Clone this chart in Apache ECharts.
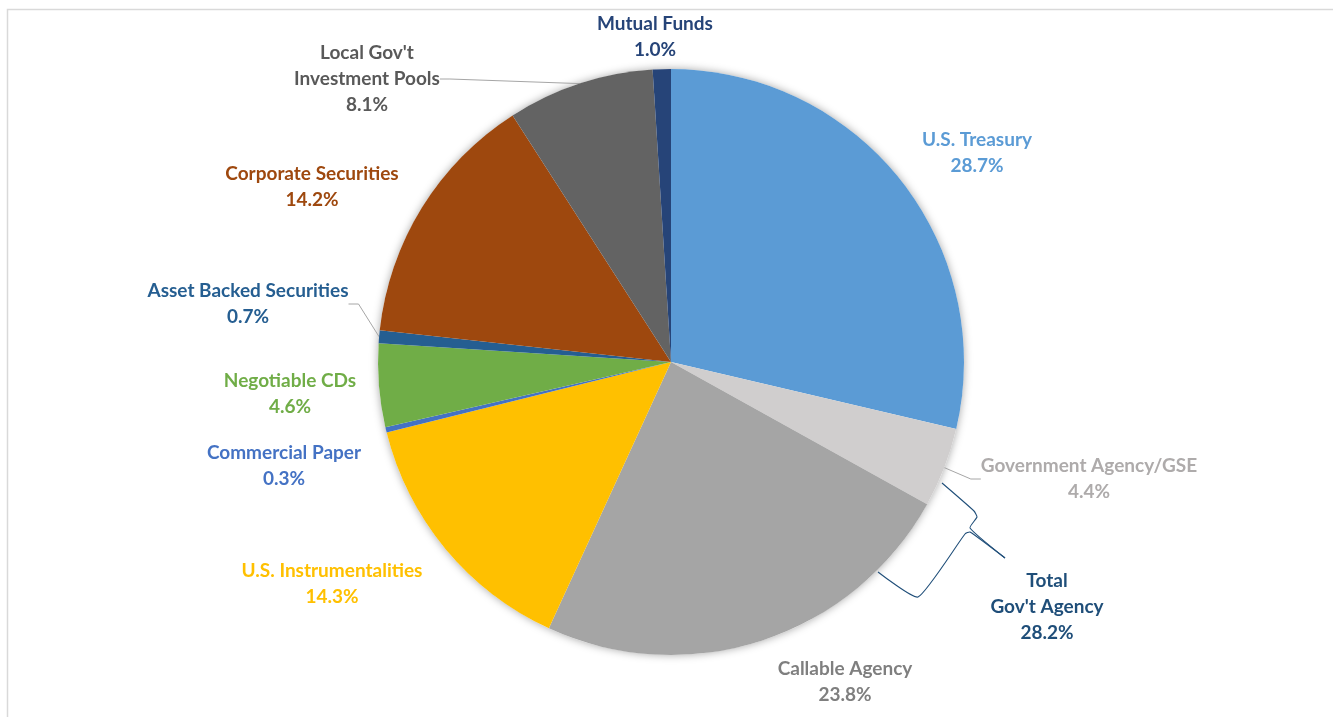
<!DOCTYPE html>
<html><head><meta charset="utf-8">
<script src="https://cdn.jsdelivr.net/npm/echarts@6/dist/echarts.min.js"></script>
<style>html,body{margin:0;padding:0;background:#fff}#c{width:1333px;height:717px}</style>
</head><body><div id="c"></div>
<script>
const categories = ["U.S. Treasury","Government Agency/GSE","Callable Agency","U.S. Instrumentalities","Commercial Paper","Negotiable CDs","Asset Backed Securities","Corporate Securities","Local Gov't\nInvestment Pools","Mutual Funds"];
const values = [28.7,4.4,23.8,14.3,0.3,4.6,0.7,14.2,8.1,1.0];
const sliceColors = ["#5B9BD5","#D0CECE","#A5A5A5","#FFC000","#4472C4","#70AD47","#255E91","#9E480E","#636363","#264478"];
const labelColors = ["#5B9BD5","#AEABAB","#7F7F7F","#FFC000","#4472C4","#70AD47","#255E91","#9E480E","#595959","#264478"];
const totalLabel = "Total\nGov't Agency";
const totalValue = 28.2;

// label anchor layout (centre of text block)
const labelAt = [[977,153],[1089,479],[845,682],[332,584],[284,466],[290,394],[248,304],[312,187],[367,79],[655,37]];
const withLine = [false,true,false,false,false,false,true,false,true,false];

const chart = echarts.init(document.getElementById('c'), null, {renderer:'canvas'});
const FONT = 'Lato, "Open Sans", sans-serif';
const data = categories.map((n,i)=>({
  name:n, value:values[i],
  itemStyle:{color:sliceColors[i]},
  label:{color:labelColors[i]},
  labelLine:{show:withLine[i], lineStyle:{color:'#A6A6A6', width:1}}
}));
chart.setOption({
  backgroundColor:'#fff',
  animation:false,
  graphic:[
    {type:'rect', left:5, top:7, shape:{width:1340, height:720}, style:{fill:'none', stroke:'#D9D9D9', lineWidth:1.5}, z:-10},
    {type:'text', style:{x:1047, y:607, text: totalLabel+"\n"+totalValue.toFixed(1)+"%", fill:'#1F4E79', font:'bold 19px '+FONT, align:'center', verticalAlign:'middle', lineHeight:26}, z:10},
    {type:'polyline', shape:{points:[[942,483],[974,511],[977,517],[970,528],[1005,558]], smooth:0.15}, style:{stroke:'#1F4E79', lineWidth:1.1, fill:'none'}, z:10},
    {type:'polyline', shape:{points:[[878,572],[918,597],[965,534],[970,532],[1005,558]], smooth:0.15}, style:{stroke:'#1F4E79', lineWidth:1.1, fill:'none'}, z:10}
  ],
  series:[
    {type:'pie', silent:true, center:[671,362], radius:293, startAngle:90, clockwise:true,
     data:[{value:values.reduce((a,b)=>a+b,0), itemStyle:{color:'#fff', shadowBlur:8, shadowColor:'rgba(0,0,0,0.35)'}}],
     label:{show:false}, labelLine:{show:false}, z:1},
    {type:'pie', center:[671,362], radius:293, startAngle:90, clockwise:true, sort:null, z:2,
     avoidLabelOverlap:false,
     itemStyle:{borderWidth:0},
     label:{show:true, position:'outside', formatter:p=>p.name+"\n"+p.value.toFixed(1)+"%", fontFamily:FONT, fontWeight:'bold', fontSize:19, lineHeight:26, align:'center'},
     labelLine:{length:10, length2:10},
     labelLayout:function(p){
       const a = labelAt[p.dataIndex];
       return {x:a[0], y:a[1], align:'center', verticalAlign:'middle', hideOverlap:false};
     },
     data:data}
  ]
});
</script></body></html>
